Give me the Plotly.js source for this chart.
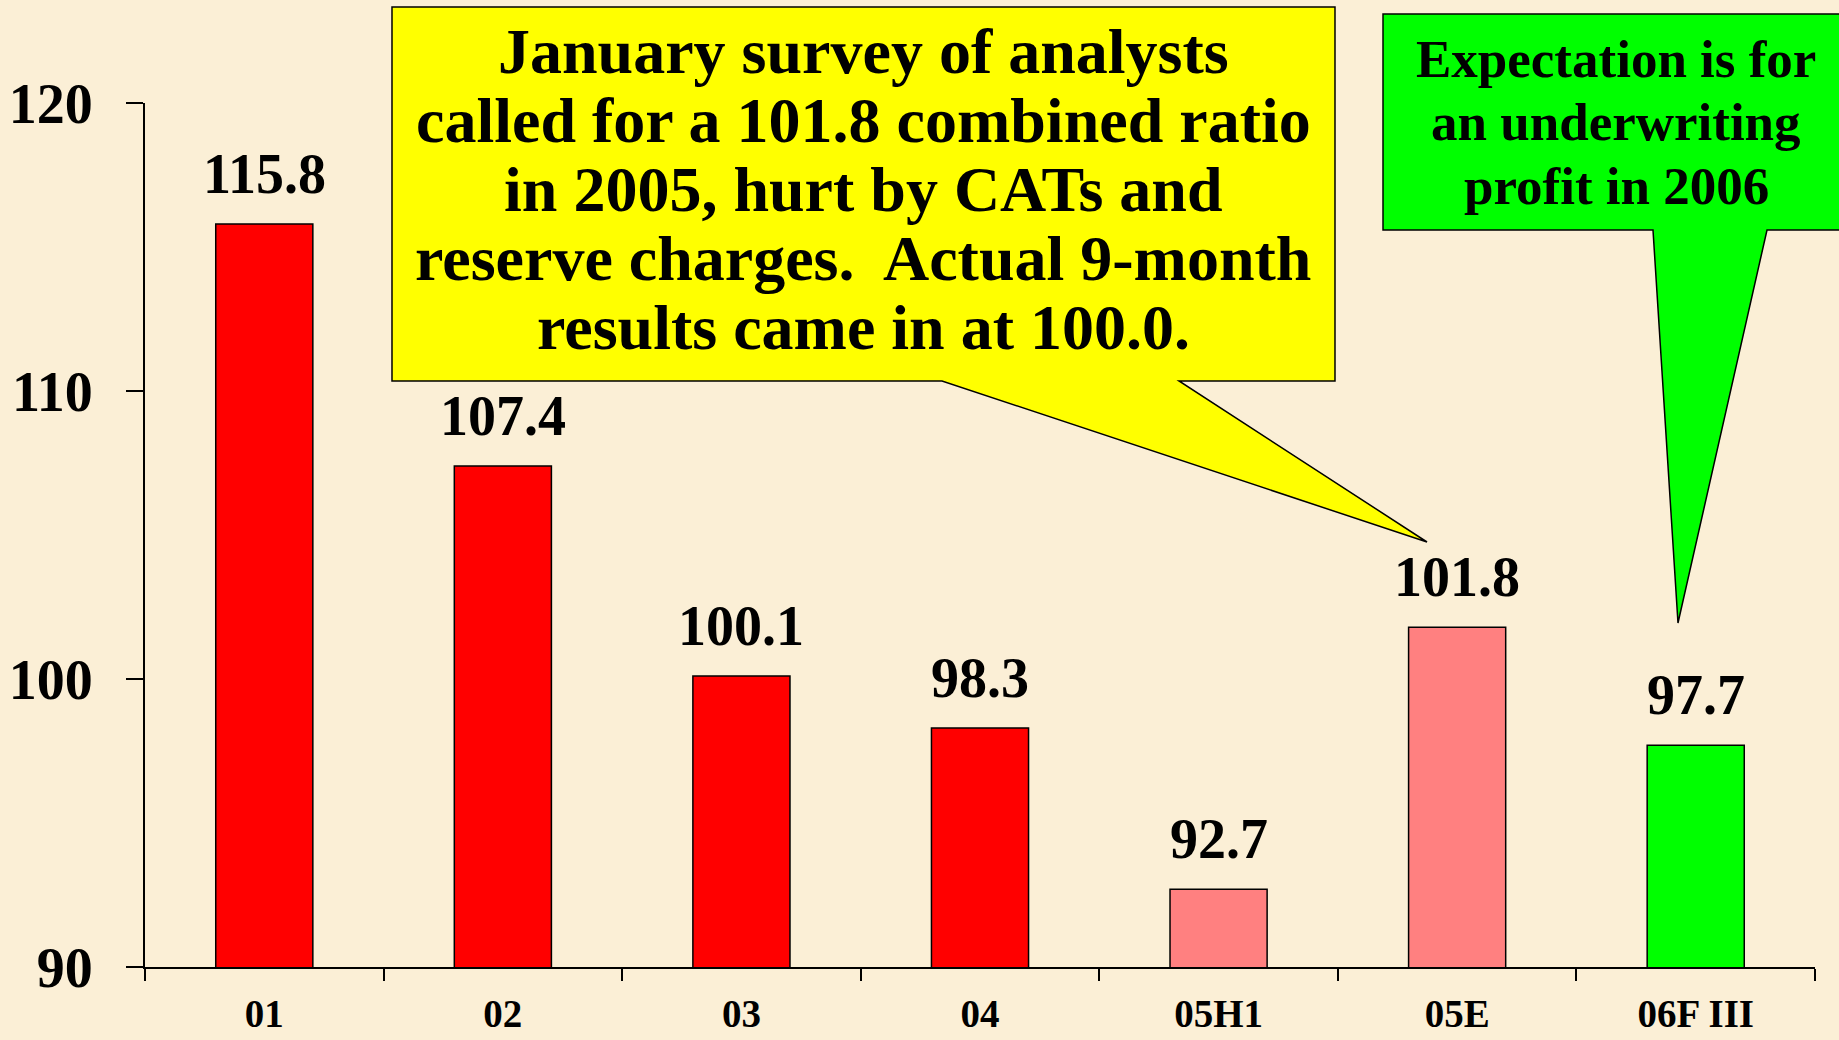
<!DOCTYPE html>
<html><head><meta charset="utf-8">
<script src="https://cdn.plot.ly/plotly-3.0.1.min.js"></script>
<style>html,body{margin:0;padding:0;background:#FBEFD6;}#chart{width:1839px;height:1040px;}</style>
</head><body><div id="chart"></div>
<script>
const categories = ['01','02','03','04','05H1','05E','06F III'];
const ratios = [115.8, 107.4, 100.1, 98.3, 92.7, 101.8, 97.7];
const barColors = ['#FF0000','#FF0000','#FF0000','#FF0000','#FF8080','#FF8080','#00FF00'];
const yTicks = [90, 100, 110, 120];
const yellowNote = ['January survey of analysts','called for a 101.8 combined ratio','in 2005, hurt by CATs and','reserve charges.\u00A0 Actual 9-month','results came in at 100.0.'];
const greenNote = ['Expectation is for','an underwriting','profit in 2006'];

const W = 1839, H = 1040, L = 145, R = 24, T = 103, B = 73;
const pw = W - L - R, ph = H - T - B;
const px = X => (X - L) / pw;
const py = Y => (H - B - Y) / ph;
function path(pts){ return 'M ' + pts.map(p => px(p[0]).toFixed(5) + ',' + py(p[1]).toFixed(5)).join(' L ') + ' Z'; }

const FONT = 'Liberation Serif, Times New Roman, serif';

const shapes = [
  {type:'path', xref:'paper', yref:'paper', layer:'above',
   path: path([[392,7],[1335,7],[1335,381],[1179,381],[1427,542],[942,381],[392,381]]),
   fillcolor:'#FFFF00', line:{color:'#000000', width:1.5}},
  {type:'path', xref:'paper', yref:'paper', layer:'above',
   path: path([[1383,14],[1850,14],[1850,230],[1767,230],[1678,623],[1653,230],[1383,230]]),
   fillcolor:'#00FF00', line:{color:'#000000', width:1.5}}
];

const annotations = [];
ratios.forEach((v, i) => annotations.push({
  x: i, y: v, xref:'x', yref:'y', text: v.toFixed(1), showarrow:false,
  xanchor:'center', yanchor:'bottom', yshift: 17, font:{family:FONT, size:56, color:'#000', weight:'bold'}
}));
yellowNote.forEach((t, i) => annotations.push({
  x: px(863), y: py(51 + i*69), xref:'paper', yref:'paper', text: t, showarrow:false,
  xanchor:'center', yanchor:'middle', font:{family:FONT, size:64, color:'#000', weight:'bold'}
}));
greenNote.forEach((t, i) => annotations.push({
  x: px(1616), y: py(59 + i*63.5), xref:'paper', yref:'paper', text: t, showarrow:false,
  xanchor:'center', yanchor:'middle', font:{family:FONT, size:53, color:'#000', weight:'bold'}
}));

const trace = {
  type:'bar', x: categories, y: ratios, base: 0,
  marker:{color: barColors, line:{color:'#000000', width:1.5}},
  hoverinfo:'skip'
};

const layout = {
  width: W, height: H,
  margin:{l:L, r:R, t:T, b:B, pad:0},
  paper_bgcolor:'#FBEFD6', plot_bgcolor:'rgba(0,0,0,0)',
  showlegend:false, bargap:0.593,
  xaxis:{type:'category', range:[-0.5, 6.5], tickson:'boundaries', ticks:'outside', ticklen:12, tickwidth:2, tickcolor:'#000',
    showline:true, linewidth:2, linecolor:'#000', showgrid:false, zeroline:false, ticklabelstandoff:11,
    tickfont:{family:FONT, size:39, color:'#000', weight:'bold'}},
  yaxis:{range:[90, 120], tickvals: yTicks, ticktext: yTicks.map(String), ticks:'outside', ticklen:17, tickwidth:2, tickcolor:'#000',
    showline:true, linewidth:2, linecolor:'#000', showgrid:false, zeroline:false, ticklabelstandoff:22,
    tickfont:{family:FONT, size:56, color:'#000', weight:'bold'}},
  shapes: shapes,
  annotations: annotations
};

Plotly.newPlot('chart', [trace], layout, {staticPlot:true, displayModeBar:false});
</script>
</body></html>
